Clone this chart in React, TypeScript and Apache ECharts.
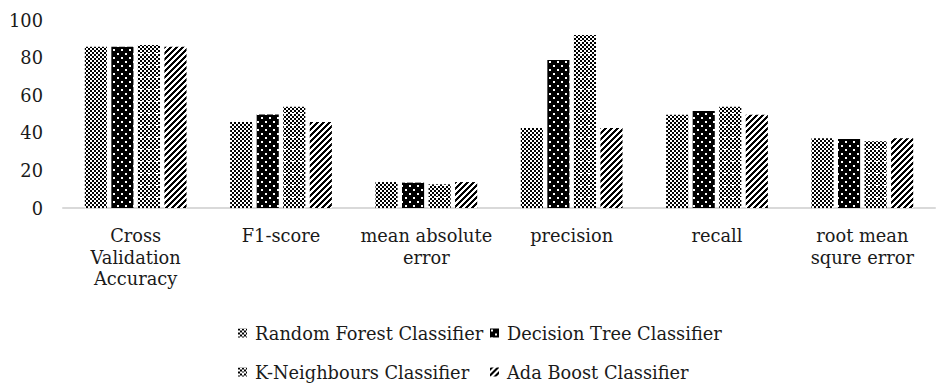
import React, { useEffect, useRef } from "react";
import * as echarts from "echarts";

const categories = [
  "Cross\nValidation\nAccuracy",
  "F1-score",
  "mean absolute\nerror",
  "precision",
  "recall",
  "root mean\nsqure error",
];
const seriesNames = [
  "Random Forest Classifier",
  "Decision Tree Classifier",
  "K-Neighbours Classifier",
  "Ada Boost Classifier",
];
const randomForest = [85.8, 45.7, 13.8, 42.6, 49.6, 37.1];
const decisionTree = [85.8, 49.8, 13.5, 78.7, 51.6, 36.7];
const kNeighbours = [86.7, 53.9, 12.6, 92.0, 53.9, 35.5];
const adaBoost = [85.8, 45.7, 13.8, 42.6, 49.6, 37.1];
const yTicks = { min: 0, max: 100, interval: 20 };

const FONT = "DejaVu Serif";
const TEXT = "#1a1a1a";

function makeTile(w: number, h: number, fn: (x: number, y: number) => boolean) {
  const c = document.createElement("canvas");
  c.width = w;
  c.height = h;
  const ctx = c.getContext("2d")!;
  const img = ctx.createImageData(w, h);
  for (let y = 0; y < h; y++) {
    for (let x = 0; x < w; x++) {
      const dark = fn(x, y);
      const i = (y * w + x) * 4;
      const v = dark ? 0 : 255;
      img.data[i] = v;
      img.data[i + 1] = v;
      img.data[i + 2] = v;
      img.data[i + 3] = 255;
    }
  }
  ctx.putImageData(img, 0, 0);
  return c;
}

export default function App() {
  const ref = useRef<HTMLDivElement>(null);
  useEffect(() => {
    if (!ref.current) return;
    const chart = echarts.init(ref.current, undefined, { renderer: "svg" });

    const checker = (x: number, y: number) => ((Math.floor(x / 2) + Math.floor(y / 2)) % 2 === 0);
    const rfTile = makeTile(4, 4, checker);
    const dtTile = makeTile(8, 8, (x, y) => {
      const a = x >= 1 && x <= 2 && y >= 1 && y <= 2;
      const b = x >= 5 && x <= 6 && y >= 5 && y <= 6;
      return !(a || b);
    });
    const knTile = makeTile(8, 12, (x, y) => {
      if ((x === 4 || x === 5) && (y === 5 || y === 6)) return false;
      return checker(x, y);
    });
    const adaTile = makeTile(6, 6, (x, y) => ((x + y) % 6) < 3);

    const tiles = [rfTile, dtTile, knTile, adaTile];
    const datas = [randomForest, decisionTree, kNeighbours, adaBoost];

    const series = seriesNames.map((name, i) => ({
      name,
      type: "bar",
      data: datas[i],
      barGap: "20%",
      barCategoryGap: "30%",
      itemStyle: { color: { image: tiles[i], repeat: "repeat" } },
    }));

    const legendPos = [
      { left: 238, top: 324 },
      { left: 490, top: 324 },
      { left: 238, top: 363 },
      { left: 490, top: 363 },
    ];
    const legends = seriesNames.map((name, i) => ({
      data: [name],
      left: legendPos[i].left,
      top: legendPos[i].top,
      padding: 0,
      itemWidth: 9,
      itemHeight: 9,
      icon: "rect",
      textStyle: { fontFamily: FONT, fontSize: 17.8, color: TEXT, padding: [0, 0, 0, 3] },
    }));

    chart.setOption({
      animation: false,
      backgroundColor: "#fff",
      grid: { left: 63, right: 3, top: 20, bottom: 177, containLabel: false },
      legend: legends,
      xAxis: {
        type: "category",
        data: categories,
        axisLine: { lineStyle: { color: "#d9d9d9", width: 2 } },
        axisTick: { show: false },
        axisLabel: {
          fontFamily: FONT,
          fontSize: 17.8,
          lineHeight: 21.5,
          color: TEXT,
          margin: 17,
          interval: 0,
        },
      },
      yAxis: {
        type: "value",
        min: yTicks.min,
        max: yTicks.max,
        interval: yTicks.interval,
        splitLine: { show: false },
        axisLine: { show: false },
        axisTick: { show: false },
        axisLabel: { fontFamily: FONT, fontSize: 17.8, color: TEXT, margin: 20 },
      },
      series,
    });
    return () => chart.dispose();
  }, []);
  return <div ref={ref} style={{ width: 938, height: 385, position: "absolute", left: 0, top: 0 }} />;
}
